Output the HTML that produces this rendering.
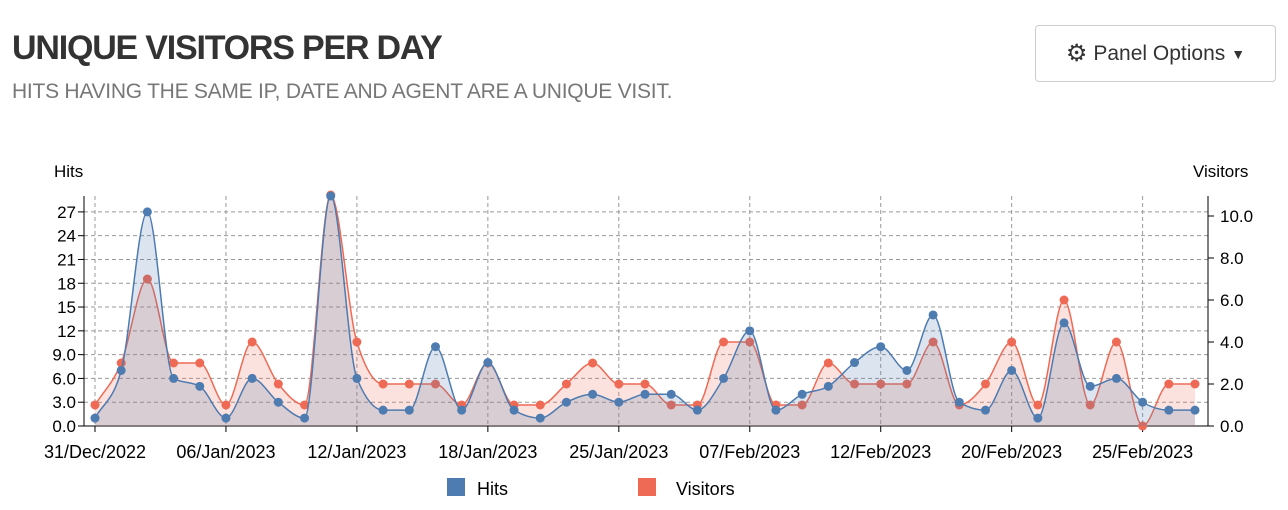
<!DOCTYPE html>
<html><head><meta charset="utf-8">
<style>
body{margin:0;width:1288px;height:510px;background:#fff;font-family:"Liberation Sans",sans-serif;overflow:hidden;position:relative}
#title{position:absolute;left:12px;top:29px;font-size:34px;font-weight:bold;color:#333;letter-spacing:-1.2px}
#sub{position:absolute;left:12px;top:80px;font-size:21px;color:#777;letter-spacing:-0.25px}
#btn{position:absolute;left:1035px;top:25px;width:241px;height:57px;border:1px solid #ccc;border-radius:4px;box-sizing:border-box;font-size:21px;color:#333;display:flex;align-items:center;justify-content:center;gap:6px}
svg{position:absolute;left:0;top:0}
</style></head><body>
<div id="title">UNIQUE VISITORS PER DAY</div>
<div id="sub">HITS HAVING THE SAME IP, DATE AND AGENT ARE A UNIQUE VISIT.</div>
<div id="btn"><span style="font-size:24px">⚙</span> Panel Options <span style="font-size:14px">▼</span></div>
<svg id="chart" width="1288" height="510"></svg>
<script>
const dates=["31/Dec/2022","01/Jan/2023","02/Jan/2023","03/Jan/2023","04/Jan/2023","06/Jan/2023","07/Jan/2023","08/Jan/2023","09/Jan/2023","10/Jan/2023","12/Jan/2023","13/Jan/2023","14/Jan/2023","15/Jan/2023","16/Jan/2023","18/Jan/2023","19/Jan/2023","20/Jan/2023","22/Jan/2023","23/Jan/2023","25/Jan/2023","27/Jan/2023","29/Jan/2023","01/Feb/2023","04/Feb/2023","07/Feb/2023","08/Feb/2023","09/Feb/2023","10/Feb/2023","11/Feb/2023","12/Feb/2023","13/Feb/2023","15/Feb/2023","17/Feb/2023","18/Feb/2023","20/Feb/2023","21/Feb/2023","22/Feb/2023","23/Feb/2023","24/Feb/2023","25/Feb/2023","26/Feb/2023","27/Feb/2023"];
const hits=[1,7,27,6,5,1,6,3,1,29,6,2,2,10,2,8,2,1,3,4,3,4,4,2,6,12,2,4,5,8,10,7,14,3,2,7,1,13,5,6,3,2,2];
const visitors=[1,3,7,3,3,1,4,2,1,11,4,2,2,2,1,3,1,1,2,3,2,2,1,1,4,4,1,1,3,2,2,2,4,1,2,4,1,6,1,4,0,2,2];
const hitTicks=[0,3,6,9,12,15,18,21,24,27];
const visTicks=[0,2,4,6,8,10];
const NS="http://www.w3.org/2000/svg",svg=document.getElementById('chart');
const L=84,R=1208,X0=95,X1=1195,Y0=426;
const x=i=>X0+(X1-X0)*i/(dates.length-1);
const yh=v=>Y0-v*7.93, yv=v=>Y0-v*21.0;
function mk(t,a,p){const e=document.createElementNS(NS,t);for(const k in a)e.setAttribute(k,a[k]);(p||svg).appendChild(e);return e;}
hitTicks.forEach(t=>{if(t>0){const g=mk('line',{x1:L,x2:R,y1:yh(t),y2:yh(t),stroke:'#999','stroke-dasharray':'4,3'});

}
const tx=mk('text',{x:L-8,y:yh(t)+6,'text-anchor':'end','font-size':17,fill:'#000'});
tx.textContent=t<12?t.toFixed(1):String(t);


mk('line',{x1:L-6,x2:L,y1:yh(t),y2:yh(t),stroke:'#000'});});
visTicks.forEach(t=>{const tx=mk('text',{x:R+12,y:yv(t)+6,'font-size':17,fill:'#000'});tx.textContent=t.toFixed(1);


mk('line',{x1:R,x2:R+6,y1:yv(t),y2:yv(t),stroke:'#000'});});
for(let i=0;i<dates.length;i+=5){const g=mk('line',{x1:x(i),x2:x(i),y1:196,y2:Y0,stroke:'#999','stroke-dasharray':'4,3'});


mk('line',{x1:x(i),x2:x(i),y1:Y0,y2:Y0+6,stroke:'#000'});
const tx=mk('text',{x:x(i),y:Y0+32,'text-anchor':'middle','font-size':18,fill:'#000'});tx.textContent=dates[i];

}
mk('line',{x1:L,x2:L,y1:196,y2:Y0,stroke:'#000'});
mk('line',{x1:R,x2:R,y1:196,y2:Y0,stroke:'#000'});
mk('line',{x1:L,x2:R,y1:Y0,y2:Y0,stroke:'#000'});
const t1=mk('text',{x:54,y:177,'font-size':17});t1.textContent='Hits';

const t2=mk('text',{x:1193,y:177,'font-size':17});t2.textContent='Visitors';

function curve(pts){const n=pts.length,dx=[],s=[],m=[];
for(let i=0;i<n-1;i++){dx[i]=pts[i+1][0]-pts[i][0];s[i]=(pts[i+1][1]-pts[i][1])/dx[i];}
m[0]=s[0];m[n-1]=s[n-2];
for(let i=1;i<n-1;i++){if(s[i-1]*s[i]<=0)m[i]=0;else{const h0=dx[i-1],h1=dx[i];const p=(s[i-1]*h1+s[i]*h0)/(h0+h1);
m[i]=(Math.sign(s[i-1])+Math.sign(s[i]))*Math.min(Math.abs(s[i-1]),Math.abs(s[i]),0.5*Math.abs(p));}}
let d=`M${pts[0][0]},${pts[0][1]}`;
for(let i=0;i<n-1;i++){const h=dx[i]/3;d+=`C${pts[i][0]+h},${pts[i][1]+m[i]*h} ${pts[i+1][0]-h},${pts[i+1][1]-m[i+1]*h} ${pts[i+1][0]},${pts[i+1][1]}`;}
return d;}
function series(vals,sy,col,fill,name){const pts=vals.map((v,i)=>[x(i),sy(v)]);const c=curve(pts);
const a=mk('path',{d:c+`L${x(vals.length-1)},${Y0}L${x(0)},${Y0}Z`,fill:fill});

const l=mk('path',{d:c,fill:'none',stroke:col,'stroke-width':1.5});

pts.forEach(p=>{const d=mk('circle',{cx:p[0],cy:p[1],r:4.5,fill:col});
});}
series(visitors,yv,'#ee6a55','rgba(240,110,90,0.2)','visitors');
series(hits,yh,'#4e7bb0','rgba(78,123,176,0.2)','hits');
const lg1=mk('rect',{x:447,y:478,width:18,height:18,fill:'#4e7bb0'});

const lt1=mk('text',{x:477,y:495,'font-size':18});lt1.textContent='Hits';

const lg2=mk('rect',{x:638,y:478,width:18,height:18,fill:'#ee6a55'});

const lt2=mk('text',{x:676,y:495,'font-size':18});lt2.textContent='Visitors';

</script>
</body></html>
